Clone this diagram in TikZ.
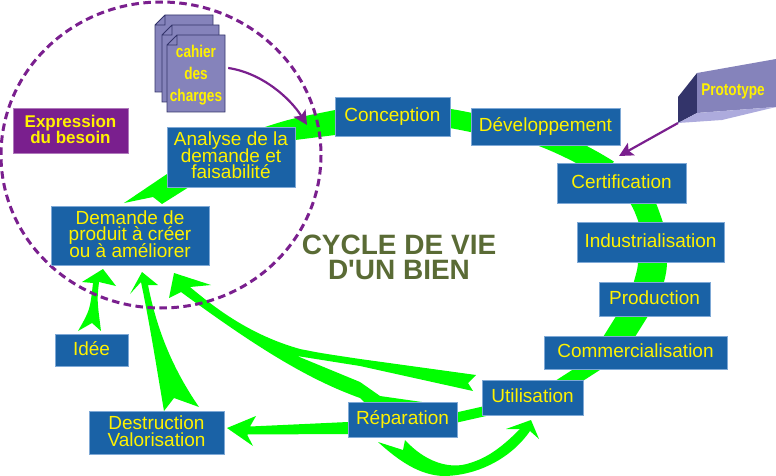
\documentclass[tikz,border=0pt]{standalone}
\usepackage{fontspec}
\setmainfont{Liberation Sans}
\newfontfamily\narrowfont[FakeStretch=0.8]{Liberation Sans}
\newcommand\tightlines{\lineskiplimit=-20pt\relax}
\usetikzlibrary{positioning}
\usetikzlibrary{backgrounds}
\usetikzlibrary{arrows.meta}
\definecolor{boxblue}{HTML}{1A62A6}
\definecolor{boxline}{HTML}{7FA9D6}
\definecolor{lime}{HTML}{00FF00}
\definecolor{violet}{HTML}{7A1F8E}
\definecolor{sheetblue}{HTML}{8583BB}
\definecolor{sheetdark}{HTML}{33346A}
\definecolor{sheetlight}{HTML}{ADABDD}
\definecolor{olive}{HTML}{5A6B35}

\begin{document}
\begin{tikzpicture}[x=1pt,y=-1pt,
            box/.style 2 args = {draw=boxline,line width=0.6pt,fill=boxblue,text=yellow,
                inner sep=0pt,outer sep=0pt,align=center,minimum width=#1,minimum height=#2,
                text depth=3pt,font=\fontsize{19}{16.5}\selectfont\tightlines},
            tag/.style = {text=yellow,inner sep=0pt,align=center,
                font=\fontsize{17}{22}\bfseries\narrowfont},
            sheet/.style = {draw=sheetdark,line width=0.9pt,fill=sheetblue},
            ribbon/.style = {fill=lime},
            ring/.style = {draw=lime,line width=#1},
            pointer/.style = {draw=violet,line width=2.2pt,
                -{Stealth[length=14pt,width=14pt,inset=3pt]}}]
            \useasboundingbox (0,0) rectangle (776,476);
            % the need, top left
            \draw[violet,line width=3pt,dash pattern=on 7.5pt off 4.5pt] (161,155) ellipse (160 and 153);
            \node[box={115pt}{45pt},fill=violet,draw=violet!60,
                font=\fontsize{17}{16}\bfseries\selectfont\tightlines] (besoin) at (70.5,130.5) {Expression\\du besoin};
            \draw[sheet] (165,15) -- (213,15) -- (213,92) -- (155,92) -- (155,25) -- cycle (165,15) -- (165,25) -- (155,25);
            \draw[sheet] (172,25) -- (219,25) -- (219,102) -- (162,102) -- (162,35) -- cycle (172,25) -- (172,35) -- (162,35);
            \draw[sheet] (177,35) -- (225,35) -- (225,112) -- (167,112) -- (167,45) -- cycle (177,35) -- (177,45) -- (167,45);
            \node[tag,minimum width=58pt,minimum height=77pt] (cahier) at (196,75) {cahier\\des\\charges};
            % the cycle boxes
            \node[box={128pt}{60pt}] (analyse) at (231,157) {Analyse de la\\demande et\\faisabilité};
            \node[box={158pt}{59pt},below left=19pt and -42pt of analyse] (demande) {Demande de\\produit à créer\\ou à améliorer};
            \node[box={115pt}{39pt}] (conception) at (392.5,116.5) {Conception};
            \node[box={149pt}{37pt},right=21pt of conception,yshift=-10pt] (developpement) {Développement};
            \node[box={129pt}{40pt},below=18pt of developpement,xshift=76pt] (certification) {Certification};
            \node[box={147pt}{40pt},below=19pt of certification,xshift=29pt] (industrialisation) {Industrialisation};
            \node[box={111pt}{34pt},below=20pt of industrialisation,xshift=4pt] (production) {Production};
            \node[box={183pt}{33pt},below=20pt of production,xshift=-19pt] (commercialisation) {Commercialisation};
            \node[box={101pt}{35pt},below=11pt of commercialisation,xshift=-103pt] (utilisation) {Utilisation};
            \node[box={109pt}{35pt},left=25pt of utilisation,yshift=-22pt] (reparation) {Réparation};
            \node[box={135pt}{43pt}] (destruction) at (156.5,432.5) {Destruction\\Valorisation};
            \node[box={73pt}{32pt}] (idee) at (91.5,350) {Idée};
            \node[text=olive,inner sep=0pt,align=center,
                font=\fontsize{28}{25}\bfseries\selectfont] (titre) at (399,257) {CYCLE DE VIE\\D\textquotesingle UN BIEN};
            % prototype block
            \fill[sheetdark] (678,97) -- (697,73) -- (697,113) -- (678,123) -- cycle;
            \fill[sheetblue] (697,73) -- (776,59) -- (776,107) -- (697,113) -- cycle;
            \fill[sheetlight] (678,123) -- (697,113) -- (776,107) -- (722,120) -- cycle;
            \node[tag] (prototype) at (733,91) {Prototype};
            \coordinate (coin) at (678,123);
            \draw[pointer] (cahier.east) ++(3,-7) .. controls (262,73) and (290,98) .. ([shift={(12,-2)}]analyse.north east);
            \draw[pointer] (coin) -- ([shift={(-2.5,-7)}]certification.north);
            \begin{pgfonlayer}{background}
                % main ring
                \fill[ribbon] (analyse.center) -- (265,127) .. controls (290,119) .. (335,110)
                    -- (conception.center) -- (335,135) .. controls (315,137) .. (295,140) -- cycle;
                \fill[ribbon] (124,203) -- (167,174) -- (analyse.center) -- (189,187) -- (162,204) -- (153,197) -- cycle;
                \draw[ring=19pt] (conception.center) .. controls (440,116) .. ([shift={(10,-2)}]developpement.west);
                \draw[ring=20pt] ([shift={(-5,-9)}]developpement.south) .. controls (555,141) and (585,155) .. ([shift={(-13,7)}]certification.north);
                \draw[ring=23pt] ([shift={(14,-13)}]certification.south) .. controls (645,205) .. ([shift={(4.5,13)}]industrialisation.north);
                \draw[ring=29pt] ([shift={(1.5,-12)}]industrialisation.south) .. controls (653,268) .. ([shift={(-8.5,10)}]production.north);
                \draw[ring=27pt] ([shift={(-15.5,-11)}]production.south) -- ([shift={(-21.5,9)}]commercialisation.north);
                \draw[ring=15pt] ([shift={(-35.5,-8)}]commercialisation.south) -- ([shift={(25.5,-27)}]utilisation.south);
                \draw[ring=10pt] ([shift={(8,12.5)}]utilisation.west) -- ([shift={(-7,-.5)}]reparation.east);
                % arrows going back
                \fill[ribbon] ([shift={(-27,4)}]demande.south) -- (116,286) -- (99,282) .. controls (97,300) .. (101,331)
                    -- ([shift={(.5,-11)}]idee.north) -- (78,331) .. controls (90,310) .. (93,283) -- (82,282) -- cycle;
                \fill[ribbon] ([shift={(12,7)}]demande.south) -- (158,285) -- (148,285) .. controls (156,325) and (170,365) .. (199,407)
                    -- ([shift={(17.5,-13)}]destruction.north) -- (164,411) .. controls (157,370) and (150,325) .. (141,282) -- (130,294) -- cycle;
                \fill[ribbon] ([shift={(44,8)}]demande.south) -- (211,285) -- (190,287) .. controls (215,308) and (250,335) .. (300,349)
                    .. controls (320,353) .. (360,359) -- (476,375) -- ([shift={(-14,-14.5)}]utilisation.west) -- (473,391) -- (360,366) -- (297,356)
                    -- (360,382) -- (380,396) -- (422,402) -- (384,403) -- (372,410) -- (368,406) -- (360,398)
                    .. controls (310,380) and (260,350) .. (181,292) -- (169,298) -- cycle;
                \fill[ribbon] ([shift={(3,-4.5)}]destruction.east) -- (256,416) -- (250,426.5) -- (reparation.center) -- (348,434) -- (247,434.5) -- (253,446) -- cycle;
                \fill[ribbon] ([shift={(-24.5,5)}]reparation.south) -- (403,450) -- (405,440) .. controls (425,462) and (450,470) .. (470,463)
                    .. controls (490,457) and (505,444) .. (520,429) -- (506,429)
                    -- ([shift={(-1.5,5)}]utilisation.south) -- (539,439) -- (530,431) .. controls (510,460) and (475,476) .. (443,476)
                    .. controls (420,475) and (400,462) .. cycle;
            \end{pgfonlayer}
        \end{tikzpicture}
\end{document}
